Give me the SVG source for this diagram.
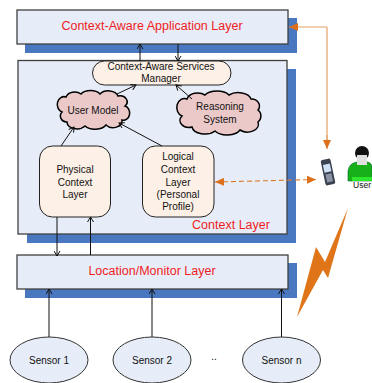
<svg xmlns="http://www.w3.org/2000/svg" width="372" height="383" viewBox="0 0 372 383">
<style>
text{font-family:"Liberation Sans",Arial,sans-serif;text-anchor:middle;fill:#111;font-size:10px}
.red{fill:#f01c24;font-size:12.500px}
.sh{fill:#4a78c0}
.lay{fill:#e6edf8;stroke:#404040;stroke-width:1.3}
.box{fill:#fdf0e6;stroke:#222;stroke-width:1}
.cl{fill:#ecc9c9;stroke:#000;stroke-width:1.500}
.sen{fill:#e6edf8;stroke:#333;stroke-width:1}
.c{fill:none;stroke:#111;stroke-width:1;marker-end:url(#a)}
.o{fill:none;stroke:#e8a064;stroke-width:1.200}
.od{fill:none;stroke:#dd7a2a;stroke-width:1.100;stroke-dasharray:5 3;marker-end:url(#oa);marker-start:url(#oa2)}
</style>
<defs>
<marker id="a" markerWidth="7" markerHeight="7" refX="6" refY="3.500" orient="auto" markerUnits="userSpaceOnUse"><path d="M1 .5L6 3.500L1 6.500" fill="none" stroke="#111"/></marker>
<marker id="oa" markerWidth="10" markerHeight="8" refX="9" refY="4" orient="auto" markerUnits="userSpaceOnUse"><path d="M0 0L9 4L0 8z" fill="#dd6f1a"/></marker>
<marker id="oa2" markerWidth="10" markerHeight="8" refX="0" refY="4" orient="auto" markerUnits="userSpaceOnUse"><path d="M9 0L0 4L9 8z" fill="#dd6f1a"/></marker>
</defs>
<g id="app-layer"><rect class="sh" x="25" y="18" width="272" height="35"/><rect class="lay" x="17" y="10" width="271" height="34"/><text class="red" x="152" y="30">Context-Aware Application Layer</text></g>
<g id="context-layer"><rect class="sh" x="27" y="69" width="269" height="174"/><rect class="lay" x="18" y="60.500" width="269" height="173.500"/><text class="red" x="231" y="229">Context Layer</text></g>
<g id="location-layer"><rect class="sh" x="25" y="263" width="272" height="35"/><rect class="lay" x="17" y="255" width="271" height="34"/><text class="red" x="152" y="275">Location/Monitor Layer</text></g>
<g id="manager"><rect class="box" x="92.500" y="61" width="138.500" height="24" rx="12"/><text x="161" y="70">Context-Aware Services</text><text x="161" y="82">Manager</text></g>
<g id="user-model"><path class="cl" d="M66 97A9 7 0 0 1 81 94A11 7 0 0 1 100 94A10 7 0 0 1 118 96A7 6 0 0 1 125 106A6 7 0 0 1 122 120A9 7 0 0 1 106 125A12 7 0 0 1 85 126A10 7 0 0 1 67 122A6 6 0 0 1 62 112A6 7 0 0 1 66 97Z"/><text x="93" y="114">User Model</text></g>
<g id="reasoning"><path class="cl" d="M187 99A11 8 0 0 1 205 95A14 8 0 0 1 229 95A13 8 0 0 1 251 99A8 7 0 0 1 258 110A6 7 0 0 1 258 122A11 8 0 0 1 240 130A14 8 0 0 1 215 131A13 8 0 0 1 192 127A9 7 0 0 1 182 116A6 7 0 0 1 187 99Z"/><text x="220" y="110">Reasoning</text><text x="220" y="123">System</text></g>
<g id="physical"><rect class="box" x="39.500" y="146" width="71" height="71" rx="13"/><text x="75" y="173">Physical</text><text x="75" y="186">Context</text><text x="75" y="198">Layer</text></g>
<g id="logical"><rect class="box" x="142.500" y="146" width="71.500" height="71" rx="13"/><text x="178" y="160">Logical</text><text x="178" y="173">Context</text><text x="178" y="186">Layer</text><text x="178" y="198">(Personal</text><text x="178" y="210">Profile)</text></g>
<g id="sensor-1"><ellipse class="sen" cx="49" cy="360" rx="39" ry="23"/><text x="49" y="364">Sensor 1</text></g>
<g id="sensor-2"><ellipse class="sen" cx="152" cy="360" rx="39" ry="23"/><text x="152" y="364">Sensor 2</text></g>
<text x="214" y="360">..</text>
<g id="sensor-n"><ellipse class="sen" cx="281.500" cy="360" rx="39" ry="23"/><text x="281.500" y="364">Sensor n</text></g>
<g id="phone" transform="rotate(-12 328 172)"><rect x="323" y="159" width="10" height="26" rx="2" fill="#3a4252"/><rect x="324.500" y="164" width="7" height="8" fill="#cfe0f4"/><rect x="325" y="174" width="6" height="8" fill="#8a94a4"/></g>
<g id="user"><path d="M348 181V171Q349 163 357 162H368Q372 163 372 168V181Z" fill="#18b018" stroke="#063" stroke-width=".6"/><path d="M352 177H372V181H352Z" fill="#2de82d"/><circle cx="362" cy="153" r="7" fill="#111"/><rect x="357" y="155" width="10" height="10" fill="#e0e0e0"/><text x="362" y="187.500" style="font-size:8.500px">User</text></g>
<path id="bolt" d="M297 317L316 247L325 262L348 208L328 278L323 270Z" fill="#e07418"/>
<g id="connectors">
<path class="c" d="M140 61V44"/><path class="c" d="M178 44V61"/>
<path class="c" d="M117 94L136 85"/><path class="c" d="M192 99L176 85"/>
<path class="c" d="M61 146L74 127"/><path class="c" d="M162 146L119 123"/>
<path class="c" d="M57 217V256"/><path class="c" d="M90.500 255V217"/>
<path class="c" d="M49 337V289"/><path class="c" d="M152 337V289"/><path class="c" d="M281.500 337V289"/>
<path class="o" d="M327 27V140"/><path class="o" d="M327 27H289" marker-end="url(#oa)"/><path class="o" d="M327 135V149" marker-end="url(#oa)"/>
<path class="od" d="M215 182L316 179.500"/>
</g>
</svg>
